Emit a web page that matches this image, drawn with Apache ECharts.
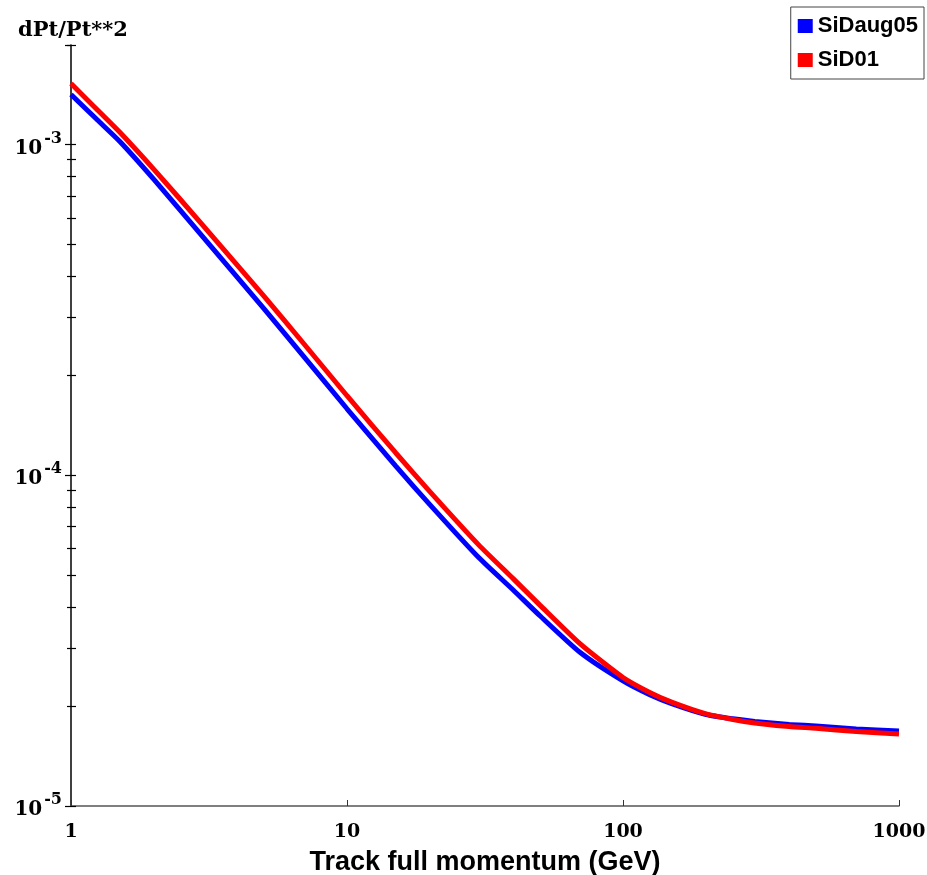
<!DOCTYPE html>
<html>
<head>
<meta charset="utf-8">
<title>dPt/Pt**2 vs momentum</title>
<script src="https://cdn.jsdelivr.net/npm/echarts@6/dist/echarts.min.js"></script>
<style>
  html, body { margin: 0; padding: 0; background: #fff; }
  #chart { width: 927px; height: 875px; }
</style>
</head>
<body>
<div id="chart"></div>
<script>
// momentum points (GeV)
const momentum = [1, 1.25, 1.5, 2, 3, 5, 7, 10, 15, 20, 30, 40, 50, 70, 100, 125, 150, 200, 250, 300, 400, 500, 700, 1000];

// dPt/Pt^2 for each detector
const sidaug05 = [1.417e-3, 1.184e-3, 1.023e-3, 7.83e-4, 5.27e-4, 3.19e-4, 2.277e-4, 1.589e-4, 1.068e-4, 8.14e-5,
  5.64e-5, 4.50e-5, 3.76e-5, 2.91e-5, 2.389e-5, 2.17e-5, 2.04e-5, 1.891e-5, 1.835e-5, 1.802e-5, 1.765e-5, 1.746e-5,
  1.71e-5, 1.686e-5];
const sid01 = [1.53e-3, 1.27e-3, 1.091e-3, 8.4e-4, 5.71e-4, 3.48e-4, 2.49e-4, 1.74e-4, 1.17e-4, 8.91e-5,
  6.16e-5, 4.87e-5, 4.05e-5, 3.09e-5, 2.447e-5, 2.205e-5, 2.06e-5, 1.898e-5, 1.826e-5, 1.783e-5, 1.738e-5, 1.718e-5,
  1.68e-5, 1.651e-5];

// axis ranges and tick marks
const xMin = 1, xMax = 1000;
const yMin = 1e-5, yMax = 2e-3;
const yDecades = [-5, -4, -3];
const yMantissas = [1, 2, 3, 4, 5, 6, 7, 8, 9];

var chart = echarts.init(document.getElementById('chart'));

// tick positions in log10 space (used only for the small y ticks)
var logMax = Math.log10(yMax);
var allTicks = [];
var minorTicks = [];
yDecades.forEach(function (d) {
  yMantissas.forEach(function (m) {
    var v = Math.log10(m) + d;
    if (v <= logMax + 1e-9) {
      allTicks.push(v);
      if (m !== 1) minorTicks.push(v);
    }
  });
});

function pairs(xs, ys) {
  return xs.map(function (x, i) { return [x, ys[i]]; });
}

var serifBold = { fontFamily: 'DejaVu Serif', fontWeight: 'bold', color: '#000' };

// extra value axes that only carry tick marks
function tickAxis(values, inside, len) {
  return {
    type: 'value',
    position: 'left',
    offset: 0,
    min: -5,
    max: logMax,
    axisLine: { show: false },
    axisLabel: { show: false },
    splitLine: { show: false },
    axisTick: {
      show: true,
      inside: inside,
      length: len,
      customValues: values,
      lineStyle: { color: '#000', width: 1.2 }
    }
  };
}

const option = {
  animation: false,
  backgroundColor: '#fff',
  title: {
    text: 'dPt/Pt**2',
    left: 13,
    top: 15,
    textStyle: Object.assign({ fontSize: 21 }, serifBold)
  },
  legend: {
    orient: 'vertical',
    right: 3,
    top: 7,
    padding: [8, 6, 8, 7],
    itemGap: 12,
    itemWidth: 15,
    itemHeight: 14,
    icon: 'rect',
    borderColor: '#444',
    borderWidth: 1,
    textStyle: { fontFamily: 'Liberation Sans', fontWeight: 'bold', fontSize: 22, color: '#000' },
    data: ['SiDaug05', 'SiD01']
  },
  grid: {
    left: 71,
    right: 28,
    top: 45,
    bottom: 69,
    containLabel: false,
    outerBoundsMode: 'none'
  },
  xAxis: {
    type: 'log',
    logBase: 10,
    min: xMin,
    max: xMax,
    name: 'Track full momentum (GeV)',
    nameLocation: 'middle',
    nameGap: 43,
    nameTextStyle: { fontFamily: 'Liberation Sans', fontWeight: 'bold', fontSize: 27, color: '#000' },
    axisLine: { lineStyle: { color: '#555', width: 1.5 } },
    axisTick: { show: true, inside: true, length: 6, lineStyle: { color: '#333' } },
    axisLabel: Object.assign({
      fontSize: 19,
      margin: 17,
      formatter: function (value) { return String(Math.round(value)); }
    }, serifBold),
    splitLine: { show: false }
  },
  yAxis: [
    {
      type: 'log',
      logBase: 10,
      min: yMin,
      max: yMax,
      axisLine: { show: true, lineStyle: { color: '#000', width: 1.5 } },
      axisTick: { show: true, inside: false, length: 6, lineStyle: { color: '#000', width: 1.2 } },
      axisLabel: {
        margin: 9,
        formatter: function (value) {
          var e = Math.log10(value);
          if (Math.abs(e - Math.round(e)) > 1e-6) return '';
          return '{b|10}{s|' + Math.round(e) + '}';
        },
        rich: {
          b: Object.assign({ fontSize: 20, verticalAlign: 'bottom', lineHeight: 28 }, serifBold),
          s: Object.assign({ fontSize: 16, verticalAlign: 'top', lineHeight: 28, padding: [0, 0, 0, 2] }, serifBold)
        }
      },
      splitLine: { show: false }
    },
    tickAxis(allTicks, true, 5),
    tickAxis(minorTicks, false, 4)
  ],
  series: [
    {
      name: 'SiDaug05',
      type: 'line',
      yAxisIndex: 0,
      data: pairs(momentum, sidaug05),
      showSymbol: false,
      smooth: 0.2,
      lineStyle: { color: '#0000ff', width: 5 },
      itemStyle: { color: '#0000ff' }
    },
    {
      name: 'SiD01',
      type: 'line',
      yAxisIndex: 0,
      data: pairs(momentum, sid01),
      showSymbol: false,
      smooth: 0.2,
      lineStyle: { color: '#ff0000', width: 5 },
      itemStyle: { color: '#ff0000' }
    }
  ]
};

chart.setOption(option);
</script>
</body>
</html>
